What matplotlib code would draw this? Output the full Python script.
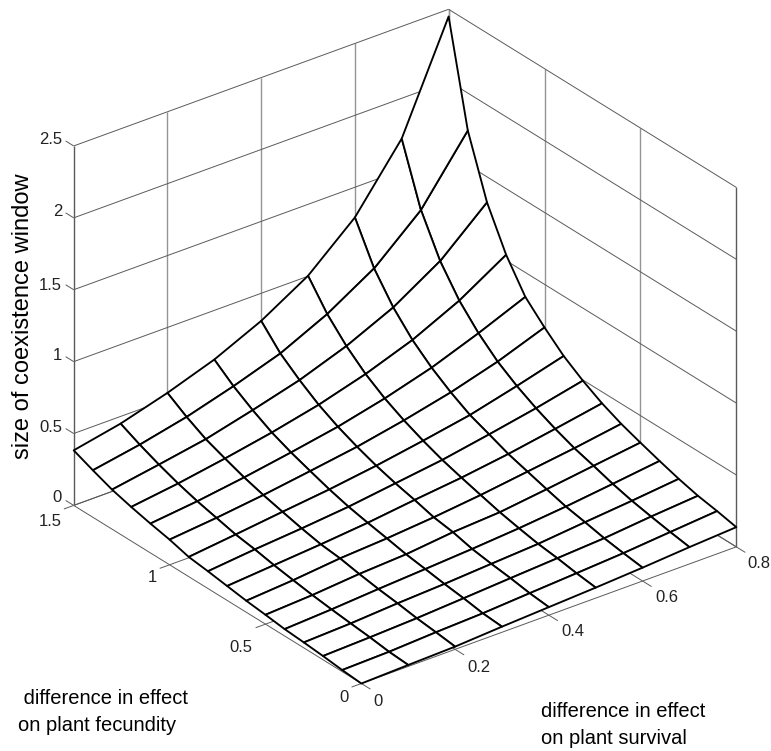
import numpy as np
import matplotlib
matplotlib.use("Agg")
import matplotlib.pyplot as plt

W, H = 771, 751
plt.rcParams['font.family'] = ['Liberation Sans', 'DejaVu Sans']

survival = [0.0, 0.1, 0.2, 0.3, 0.4, 0.5, 0.6, 0.7, 0.8]
fecundity = [0.0, 0.1, 0.2, 0.3, 0.4, 0.5, 0.6, 0.7, 0.8, 0.9, 1.0, 1.1, 1.2, 1.3, 1.4, 1.5]
window = [
    [0.000, 0.010, 0.019, 0.039, 0.056, 0.073, 0.093, 0.117, 0.137],
    [0.011, 0.019, 0.036, 0.049, 0.070, 0.090, 0.111, 0.139, 0.166],
    [0.026, 0.037, 0.051, 0.071, 0.092, 0.112, 0.132, 0.164, 0.190],
    [0.038, 0.051, 0.072, 0.088, 0.109, 0.129, 0.161, 0.191, 0.225],
    [0.048, 0.066, 0.089, 0.109, 0.130, 0.155, 0.187, 0.226, 0.267],
    [0.065, 0.083, 0.111, 0.129, 0.164, 0.184, 0.225, 0.269, 0.312],
    [0.080, 0.104, 0.137, 0.157, 0.185, 0.221, 0.265, 0.309, 0.360],
    [0.100, 0.126, 0.152, 0.183, 0.223, 0.259, 0.305, 0.361, 0.420],
    [0.120, 0.153, 0.180, 0.212, 0.256, 0.300, 0.359, 0.422, 0.495],
    [0.137, 0.174, 0.213, 0.250, 0.296, 0.351, 0.411, 0.494, 0.584],
    [0.175, 0.207, 0.247, 0.295, 0.345, 0.410, 0.486, 0.581, 0.700],
    [0.204, 0.240, 0.287, 0.342, 0.402, 0.480, 0.575, 0.696, 0.830],
    [0.237, 0.281, 0.336, 0.398, 0.472, 0.567, 0.685, 0.840, 1.040],
    [0.275, 0.330, 0.388, 0.471, 0.561, 0.679, 0.829, 1.033, 1.323],
    [0.327, 0.386, 0.460, 0.555, 0.664, 0.819, 1.018, 1.306, 1.740],
    [0.383, 0.450, 0.545, 0.658, 0.808, 1.003, 1.290, 1.720, 2.450],
]
x_ticks = [0, 0.2, 0.4, 0.6, 0.8]
y_ticks = [0, 0.5, 1, 1.5]
z_ticks = [0, 0.5, 1, 1.5, 2, 2.5]
x_tick_labels = ['0', '0.2', '0.4', '0.6', '0.8']
y_tick_labels = ['0', '0.5', '1', '1.5']
z_tick_labels = ['0', '0.5', '1', '1.5', '2', '2.5']

x0, x1, y0, y1, z0, z1 = 0, 0.8, 0, 1.5, 0, 2.5

fig = plt.figure(figsize=(W / 100, H / 100), dpi=100, facecolor='white')
ax = fig.add_axes([9.35 / W, 18.95 / H, 1, 1], projection='3d', proj_type='ortho', computed_zorder=False)
ax.set_axis_off()
ax.view_init(elev=28.36, azim=-127.5)
ax.set_xlim(x0, x1, view_margin=0)
ax.set_ylim(y0, y1, view_margin=0)
ax.set_zlim(z0, z1, view_margin=0)
ax.set_box_aspect((472, 472, 408), zoom=1.0125)

GRID = '#5a5a5a'
VERT = '#949494'
def seg(a, b, c=GRID, lw=0.7, zo=1):
    ax.plot([a[0], b[0]], [a[1], b[1]], [a[2], b[2]], color=c, lw=lw, zorder=zo, solid_capstyle='butt')

# back walls and floor grid
for v in x_ticks:
    seg((v, y1, z0), (v, y1, z1), VERT if v != x0 else GRID, 1.0)
    seg((v, y0, z0), (v, y1, z0))
for v in y_ticks:
    seg((x1, v, z0), (x1, v, z1), VERT if v != y0 else GRID, 1.0)
    seg((x0, v, z0), (x1, v, z0))
for v in z_ticks:
    seg((x0, y1, v), (x1, y1, v))
    seg((x1, y0, v), (x1, y1, v))
# ticks
for v in x_ticks:
    seg((v, y0, z0), (v, y0 - 0.047, z0))
for v in y_ticks:
    seg((x0, v, z0), (x0 - 0.021, v, z0))
for v in z_ticks:
    seg((x0, y1, v), (x0, y1 + 0.042, v))

X, Y = np.meshgrid(survival, fecundity)
ax.plot_surface(X, Y, np.array(window), rstride=1, cstride=1, color='white',
                edgecolor='black', linewidth=1.35, shade=False, zorder=5, antialiased=True)

def px(x, y, s, **kw):
    fig.text(x / W, 1 - y / H, s, **kw)

z_label_px = [(62, 498), (62, 427), (62, 355), (62, 285), (62, 212), (62, 140)]
y_label_px = [(344, 698), (241, 648), (152, 578), (50, 521)]
x_label_px = [(378, 701), (479, 667), (573, 632), (667, 597), (759, 564)]
for (a, b), s in zip(z_label_px, z_tick_labels):
    px(a, b, s, ha='right', va='center', fontsize=12, color='#222222')
for (a, b), s in zip(y_label_px, y_tick_labels):
    px(a, b, s, ha='center', va='center', fontsize=12, color='#222222')
for (a, b), s in zip(x_label_px, x_tick_labels):
    px(a, b, s, ha='center', va='center', fontsize=12, color='#222222')

px(23, 316, 'size of coexistence window', rotation=90, ha='center', va='center', fontsize=17, color='black')
px(18, 712, ' difference in effect\non plant fecundity', ha='left', va='center', fontsize=14.5, color='black', linespacing=1.47)
px(541, 725, 'difference in effect\non plant survival', ha='left', va='center', fontsize=14.5, color='black', linespacing=1.47)

fig.savefig('out.png', dpi=100)
